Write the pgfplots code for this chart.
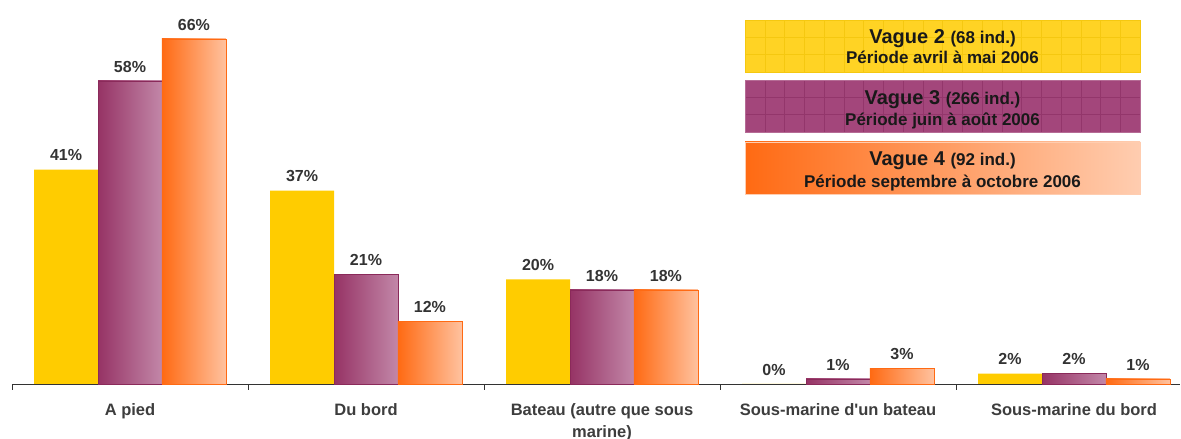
\documentclass[border=0pt]{standalone}
\usepackage{pgfplots}
\pgfplotsset{compat=1.18}
\usepackage{fontspec}
\setmainfont{Liberation Sans}[Ligatures=TeXOff]
\definecolor{cy}{HTML}{FFCC00}
\definecolor{cpl}{HTML}{963365}
\definecolor{cpr}{HTML}{C287A8}
\definecolor{cpd}{HTML}{8A2A5A}
\definecolor{col}{HTML}{FF6A13}
\definecolor{cor}{HTML}{FFC29F}
\definecolor{txt}{HTML}{333333}
\definecolor{lgy}{HTML}{FFD324}
\definecolor{lgyg}{HTML}{F5C810}
\definecolor{lgp}{HTML}{A3467B}
\definecolor{lgpg}{HTML}{93366B}
\definecolor{lgol}{HTML}{FF6A13}
\definecolor{lgor}{HTML}{FFCDB0}
\pgfplotsset{
  pbar/.style={bar shift=0, draw=cpd, left color=cpl, right color=cpr},
  obar/.style={bar shift=0.271, draw=col, left color=col, right color=cor},
}
\begin{document}
\begin{tikzpicture}[x=1pt,y=1pt]
\useasboundingbox (0,0) rectangle (1181,439);
\begin{axis}[
  at={(12pt,55pt)}, anchor=south west,
  scale only axis, width=1168.2pt, height=366pt,
  xmin=-0.5, xmax=4.45, ymin=0, ymax=70,
  axis x line=bottom, axis y line=none,
  axis line style={-, draw=txt, line width=0.9pt},
  xtick={0,1,2,3,4},
  xticklabels={A pied, Du bord, {Bateau (autre que sous\\marine)}, Sous-marine d'un bateau, Sous-marine du bord},
  major tick length=0pt,
  minor xtick={-0.5,0.5,1.5,2.5,3.5},
  minor tick length=6pt,
  tick align=outside,
  minor tick style={draw=txt, line width=0.9pt},
  xticklabel style={font=\fontsize{16.5}{22}\selectfont\bfseries, text=txt!95, align=center, yshift=-16pt},
  ybar, bar width=0.271,
  /pgf/number format/assume math mode=true,
  nodes near coords={\pgfmathprintnumber{\pgfplotspointmeta}\%},
  nodes near coords style={font=\fontsize{16}{18}\selectfont\bfseries, text=txt, anchor=south, yshift=5pt},
  clip=false,
]
\addplot[bar shift=-0.271, draw=none, fill=cy] coordinates {(0,41) (1,37) (2,20) (3,0) (4,2)};
\addplot[pbar] coordinates {(0,58)};
\addplot[pbar] coordinates {(1,21)};
\addplot[pbar] coordinates {(2,18)};
\addplot[pbar] coordinates {(3,1)};
\addplot[pbar] coordinates {(4,2)};
\addplot[obar] coordinates {(0,66)};
\addplot[obar] coordinates {(1,12)};
\addplot[obar] coordinates {(2,18)};
\addplot[obar] coordinates {(3,3)};
\addplot[obar] coordinates {(4,1)};
\end{axis}
% legend boxes
\fill[lgy] (745,367) rectangle (1140,419);
\begin{scope}
\clip (745,367) rectangle (1140,419);
\draw[lgyg, line width=0.5pt, shift={(745,367)}] (0,0) grid[xstep=19.75,ystep=17.3] (395,52);
\end{scope}
\draw[lgyg, line width=0.6pt] (745,367) rectangle (1140,419);
\fill[lgp] (745,307) rectangle (1140,359);
\begin{scope}
\clip (745,307) rectangle (1140,359);
\draw[lgpg, line width=0.5pt, shift={(745,307)}] (0,0) grid[xstep=19.75,ystep=17.3] (395,52);
\end{scope}
\draw[lgp!80!white, line width=0.6pt] (745,307) rectangle (1140,359);
\shade[left color=lgol, right color=lgor] (745,245) rectangle (1140,297);
\draw[lgor, line width=0.6pt] (745,245) rectangle (1140,297);
\node[text=black!90, anchor=base] at (942.5,395) {\bfseries\fontsize{20}{22}\selectfont Vague 2 \fontsize{17}{19}\selectfont(68 ind.)};
\node[text=black!90, anchor=base] at (942.5,375) {\bfseries\fontsize{17}{19}\selectfont Période avril à mai 2006};
\node[text=black!90, anchor=base] at (942.5,334) {\bfseries\fontsize{20}{22}\selectfont Vague 3 \fontsize{17}{19}\selectfont(266 ind.)};
\node[text=black!90, anchor=base] at (942.5,313) {\bfseries\fontsize{17}{19}\selectfont Période juin à août 2006};
\node[text=black!90, anchor=base] at (942.5,273) {\bfseries\fontsize{20}{22}\selectfont Vague 4 \fontsize{17}{19}\selectfont(92 ind.)};
\node[text=black!90, anchor=base] at (942.5,251) {\bfseries\fontsize{17}{19}\selectfont Période septembre à octobre 2006};
\end{tikzpicture}
\end{document}
